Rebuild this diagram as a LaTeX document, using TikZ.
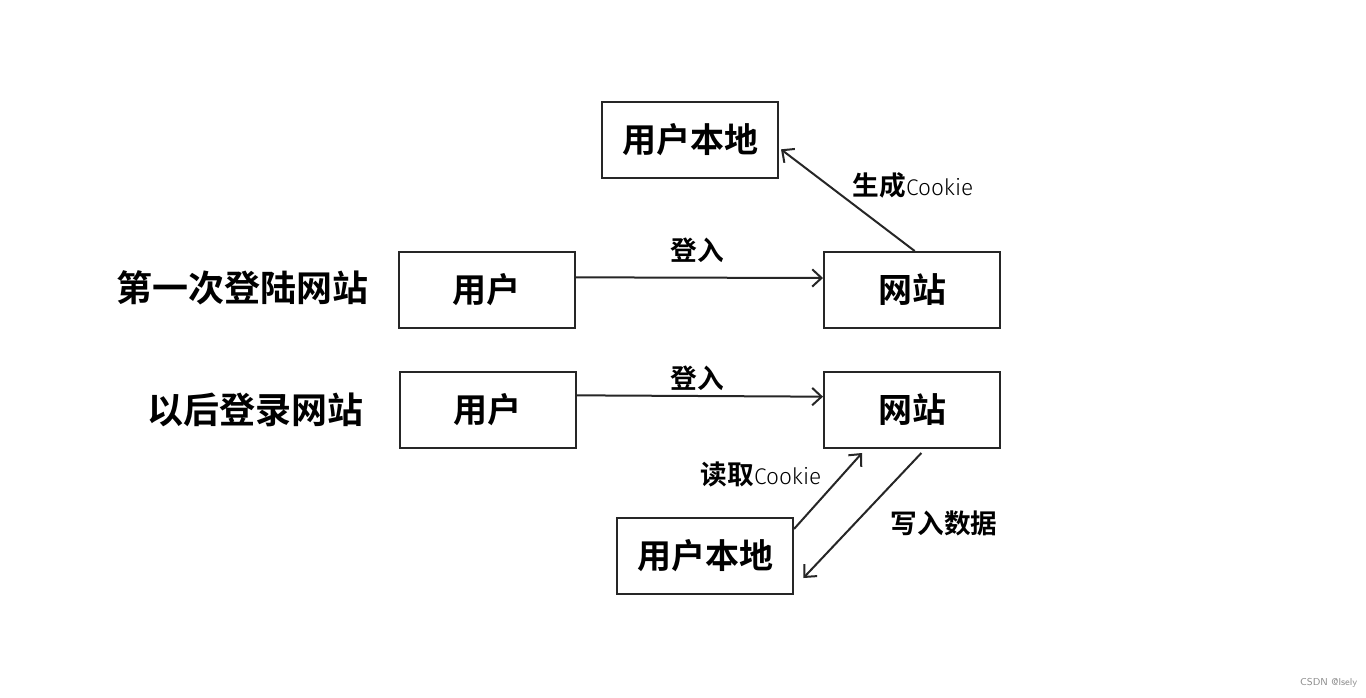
\documentclass[tikz,border=0pt]{standalone}
\usepackage{fontspec}
\setmainfont{Noto Sans CJK SC}[BoldFont={Noto Sans CJK SC Bold}]
\newfontfamily\cookiefont{Fira Sans Light}
\usetikzlibrary{arrows.meta}

\tikzset{
    box/.style={draw=black!85, line width=1.5pt, minimum width=132pt, minimum height=57pt, inner sep=0pt, font=\fontsize{25.5}{29}\selectfont\bfseries},
    rowlabel/.style={font=\fontsize{27}{31}\selectfont\bfseries},
    edgelabel/.style={font=\fontsize{20}{24}\selectfont\bfseries},
    flow/.style={draw=black!85, line width=1.5pt, -{Straight Barb[length=7pt,width=13pt,line width=1.5pt]}}
}

\begin{document}
\begin{tikzpicture}[x=0.75pt, y=-0.75pt]
    \useasboundingbox[fill=white] (0,0) rectangle (1366,697);

    % first visit
    \node[box] (loc1) at (690,140) {用户本地};
    \node[box] (u1) at (486.5,290) {用户};
    \node[box] (w1) at (912,290) {网站};
    \node[rowlabel] (lab1) at (242,288) {第一次登陆网站};

    % later visits
    \node[box] (u2) at (487.5,410) {用户};
    \node[box] (w2) at (912,410) {网站};
    \node[box] (loc2) at (705,556) {用户本地};
    \node[rowlabel] (lab2) at (255,410) {以后登录网站};

    % connectors
    \draw[flow] ([yshift=9.5pt]u1.east) -- ([yshift=9pt]w1.west);
    \node[edgelabel] (in1) at (697,250) {登入};
    \draw[flow] ([yshift=11pt]u2.east) -- ([yshift=10pt]w2.west);
    \node[edgelabel] (in2) at (697,378) {登入};

    \draw[flow] ([xshift=2pt]w1.north) -- ([shift={(1.5pt,-7pt)}]loc1.east);
    \node[edgelabel, anchor=west] (gen) at (848,185) {生成{\cookiefont\mdseries\fontsize{17}{20}\selectfont Cookie}};

    \draw[flow] ([yshift=-9pt]loc2.north east) -- ([xshift=-37.5pt,yshift=-3pt]w2.south);
    \node[edgelabel, anchor=west] (read) at (696,474) {读取{\cookiefont\mdseries\fontsize{17}{20}\selectfont Cookie}};
    \draw[flow] ([xshift=7pt,yshift=-3pt]w2.south) -- ([shift={(7pt,-16.5pt)}]loc2.east);
    \node[edgelabel, anchor=west] (write) at (886,523) {写入数据};

    % watermark
    \node[text=black!45, font=\fontsize{7.5}{9}\selectfont\sffamily, anchor=east] (mark) at (1362,683) {CSDN @lsely};
\end{tikzpicture}
\end{document}
